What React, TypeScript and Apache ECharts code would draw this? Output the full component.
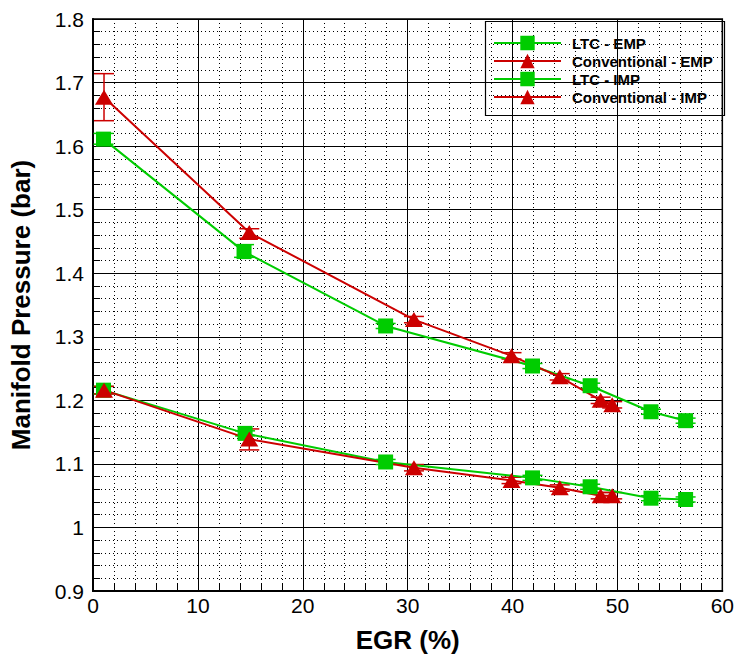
import React, { useEffect, useRef } from "react";
import * as echarts from "echarts";

const xTicks = [0, 10, 20, 30, 40, 50, 60];
const yRange = [0.9, 1.8];

const ltcEmp: [number, number][] = [
  [1.0, 1.611], [14.4, 1.434], [27.9, 1.317], [41.9, 1.254], [47.4, 1.223], [53.2, 1.182], [56.5, 1.168],
];
const convEmp: [number, number][] = [
  [1.05, 1.677], [14.9, 1.464], [30.6, 1.327], [39.9, 1.27], [44.5, 1.237], [48.4, 1.2], [49.5, 1.193],
];
const ltcImp: [number, number][] = [
  [1.0, 1.216], [14.5, 1.148], [27.9, 1.103], [41.9, 1.078], [47.4, 1.064], [53.2, 1.046], [56.5, 1.044],
];
const convImp: [number, number][] = [
  [1.05, 1.216], [14.9, 1.139], [30.6, 1.094], [39.9, 1.074], [44.5, 1.0625], [48.4, 1.05], [49.5, 1.05],
];

// error bars: [x, low, high]
const greenErr: [number, number, number][] = [
  [1.0, 1.603, 1.62], [14.4, 1.425, 1.445], [27.9, 1.313, 1.321], [41.9, 1.25, 1.258], [47.4, 1.219, 1.227],
  [53.2, 1.178, 1.186], [56.5, 1.164, 1.172], [1.0, 1.21, 1.222], [14.5, 1.144, 1.152], [27.9, 1.099, 1.107],
  [41.9, 1.074, 1.082], [47.4, 1.06, 1.068], [53.2, 1.042, 1.05], [56.5, 1.04, 1.048],
];
const redErr: [number, number, number][] = [
  [1.05, 1.64, 1.714], [14.9, 1.455, 1.47], [30.6, 1.322, 1.332], [39.9, 1.265, 1.275], [44.5, 1.232, 1.242],
  [48.4, 1.195, 1.205], [49.5, 1.188, 1.198], [1.05, 1.21, 1.222], [14.9, 1.122, 1.155], [30.6, 1.089, 1.099],
  [39.9, 1.069, 1.079], [44.5, 1.057, 1.067], [48.4, 1.045, 1.055], [49.5, 1.045, 1.055],
];

const GREEN = "#00cc00";
const RED = "#cc0000";
const FONT = "'Liberation Sans', Arial, Helvetica, sans-serif";

function errRender(color: string) {
  return (params: any, api: any) => {
    const x = api.value(0);
    const lo = api.coord([x, api.value(1)]);
    const hi = api.coord([x, api.value(2)]);
    const hw = 10;
    const style = { stroke: color, lineWidth: 1.5 };
    return {
      type: "group",
      children: [
        { type: "line", shape: { x1: lo[0], y1: lo[1], x2: hi[0], y2: hi[1] }, style },
        { type: "line", shape: { x1: hi[0] - hw, y1: hi[1], x2: hi[0] + hw, y2: hi[1] }, style },
        { type: "line", shape: { x1: lo[0] - hw, y1: lo[1], x2: lo[0] + hw, y2: lo[1] }, style },
      ],
    };
  };
}

export default function App() {
  const ref = useRef<HTMLDivElement>(null);
  useEffect(() => {
    if (!ref.current) return;
    const chart = echarts.init(ref.current, undefined, { renderer: "svg" });
    const lineSeries = (name: string, data: [number, number][], color: string, tri: boolean) => ({
      name,
      type: "line",
      data,
      z: 3,
      symbol: tri ? "triangle" : "rect",
      symbolSize: tri ? [18, 15] : 15,
      itemStyle: { color },
      lineStyle: { color, width: 2 },
    });
    chart.setOption({
      animation: false,
      backgroundColor: "#fff",
      grid: { left: 93, right: 13, top: 19, bottom: 64, show: true, borderColor: "#000", borderWidth: 1.5, backgroundColor: "transparent" },
      legend: {
        data: ["LTC - EMP", "Conventional - EMP", "LTC - IMP", "Conventional - IMP"],
        orient: "vertical",
        left: 493,
        top: 34,
        padding: 0,
        itemWidth: 67,
        itemHeight: 18,
        itemGap: 0,
        textStyle: { fontFamily: FONT, fontWeight: "bold", fontSize: 15, color: "#000", padding: [0, 0, 0, 6], lineHeight: 18 },
      },
      graphic: [
        { type: "rect", left: 483, top: 19, shape: { width: 239, height: 94 }, style: { fill: "none", stroke: "#000", lineWidth: 1.2 }, z: 10 },
      ],
      xAxis: {
        type: "value",
        min: xTicks[0],
        max: xTicks[xTicks.length - 1],
        interval: 10,
        name: "EGR (%)",
        nameLocation: "middle",
        nameGap: 36,
        nameTextStyle: { fontFamily: FONT, fontWeight: "bold", fontSize: 26, color: "#000" },
        axisLine: { lineStyle: { color: "#000", width: 2 } },
        axisTick: { inside: true, length: 12, lineStyle: { color: "#000" } },
        minorTick: { show: true, splitNumber: 5, length: 7, lineStyle: { color: "#000" } },
        axisLabel: { fontFamily: FONT, fontSize: 21, color: "#000", margin: 4 },
        splitLine: { show: true, lineStyle: { color: "#000", width: 1 } },
        minorSplitLine: { show: true, lineStyle: { color: "#000", type: [1, 3], width: 1 } },
      },
      yAxis: {
        type: "value",
        min: yRange[0],
        max: yRange[1],
        interval: 0.1,
        name: "Manifold Pressure (bar)",
        nameLocation: "middle",
        nameGap: 59,
        nameTextStyle: { fontFamily: FONT, fontWeight: "bold", fontSize: 26, color: "#000" },
        axisLine: { lineStyle: { color: "#000", width: 2 } },
        axisTick: { inside: true, length: 12, lineStyle: { color: "#000" } },
        minorTick: { show: true, splitNumber: 5, length: 7, lineStyle: { color: "#000" } },
        axisLabel: { fontFamily: FONT, fontSize: 21, color: "#000", margin: 9 },
        splitLine: { show: true, lineStyle: { color: "#000", width: 1 } },
        minorSplitLine: { show: true, lineStyle: { color: "#000", type: [1, 3], width: 1 } },
      },
      series: [
        { type: "custom", name: "errG", data: greenErr, renderItem: errRender(GREEN), encode: { x: 0, y: [1, 2] }, z: 2, silent: true },
        { type: "custom", name: "errR", data: redErr, renderItem: errRender(RED), encode: { x: 0, y: [1, 2] }, z: 2, silent: true },
        lineSeries("LTC - EMP", ltcEmp, GREEN, false),
        lineSeries("Conventional - EMP", convEmp, RED, true),
        lineSeries("LTC - IMP", ltcImp, GREEN, false),
        lineSeries("Conventional - IMP", convImp, RED, true),
      ],
    });
    return () => chart.dispose();
  }, []);
  return (
    <div
      ref={ref}
      style={{ position: "fixed", left: 0, top: 0, width: 737, height: 658, background: "#fff" }}
    />
  );
}
